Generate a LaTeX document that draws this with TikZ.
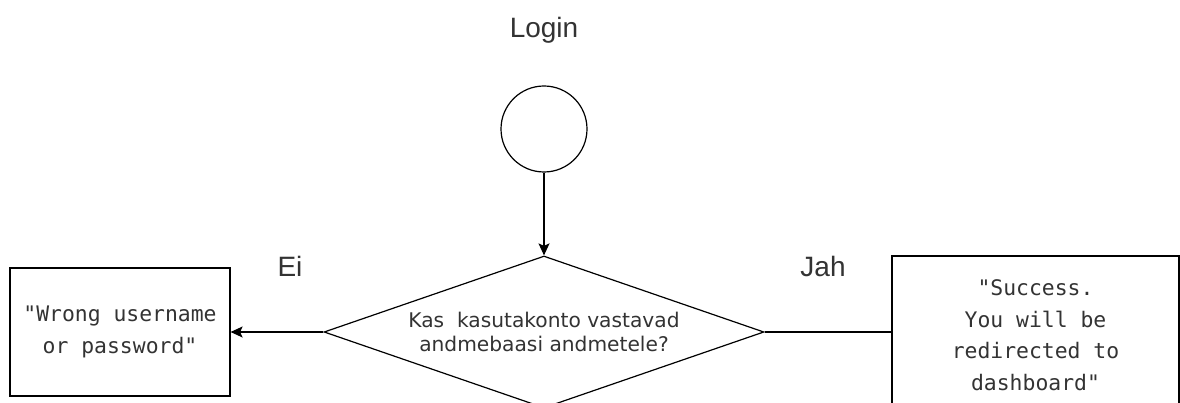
\documentclass[tikz,border=0pt]{standalone}
\usepackage{fontspec}
\usetikzlibrary{shapes.geometric,arrows.meta}
\newfontfamily\labelfont{Liberation Sans}
\newfontfamily\diafont{DejaVu Sans}
\newfontfamily\boxfont{DejaVu Sans Mono}
\definecolor{txt}{HTML}{333333}
\tikzset{
  every node/.style={text=txt},
  line/.style={line width=1.2pt, draw=black},
  flow/.style={line, -{Stealth[length=12pt,width=11pt,inset=2.5pt]}},
  msgbox/.style={draw=black, line width=1.2pt, rectangle, align=center,
    font=\boxfont\fontsize{21.4}{31.5}\selectfont},
  caption/.style={font=\labelfont\fontsize{28}{32}\selectfont},
}
\begin{document}
\begin{tikzpicture}[x=1pt,y=-1pt]
  \clip (0,0) rectangle (1180,403);
  \fill[white] (0,0) rectangle (1180,403);

  % start of the login flow
  \node[caption] (title) at (544,30) {Login};
  \node[circle, draw=black, line width=1.2pt, minimum size=86pt, inner sep=0pt] (start) at (544,129) {};

  % credential check
  \node[diamond, shape aspect=2.895, draw=black, line width=1.2pt, minimum width=440pt, minimum height=152pt,
        inner sep=0pt, align=center, font=\diafont\fontsize{20.2}{24}\selectfont] (check) at (544,332)
        {Kas\ \ kasutakonto vastavad\\andmebaasi andmetele?};

  % outcomes
  \node[msgbox, minimum width=220pt, minimum height=128pt] (fail) at (120,332)
        {"Wrong username\\or password"};
  \node[msgbox, minimum width=287pt, minimum height=158pt] (ok) at (1035.5,335)
        {"Success.\\You will be\\redirected to\\dashboard"};

  \node[caption] (no) at (290,266) {Ei};
  \node[caption] (yes) at (823,266) {Jah};

  % connectors
  \draw[flow] (start.south) -- (check.north);
  \draw[flow] (check.west) -- (fail.east);
  \draw[line] (check.east) -- (ok.west |- check.east);
\end{tikzpicture}
\end{document}
